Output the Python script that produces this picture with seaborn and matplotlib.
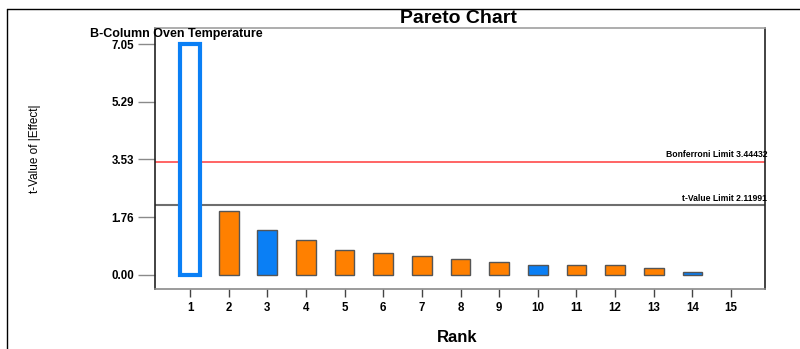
import matplotlib
matplotlib.use("Agg")
import matplotlib.pyplot as plt
from matplotlib.lines import Line2D
import seaborn as sns
import pandas as pd

# Pareto chart of standardized effects
ranks = [str(r) for r in range(1, 16)]
t_values = [7.05, 1.94, 1.36, 1.06, 0.755, 0.67, 0.58, 0.47, 0.38, 0.29, 0.29, 0.29, 0.195, 0.08, 0.0]
effect_sign = ["+", "-", "+", "-", "-", "-", "-", "-", "-", "+", "-", "-", "-", "+", "-"]
y_ticks = [0.00, 1.76, 3.53, 5.29, 7.05]
bonferroni_limit = 3.44432
t_value_limit = 2.11991
top_effect_name = "B-Column Oven Temperature"

ORANGE = "#FF8000"
BLUE = "#0A7FF5"

df = pd.DataFrame({"Rank": ranks, "t": t_values, "sign": effect_sign})

sns.set_theme(style="white")
plt.rcParams["font.family"] = ["Liberation Sans", "DejaVu Sans"]
plt.rcParams["text.color"] = "black"
plt.rcParams["xtick.color"] = "black"
plt.rcParams["ytick.color"] = "black"

fig = plt.figure(figsize=(8.0, 3.49), dpi=100)
ax = fig.add_axes([0.19375, 0.1719, 0.7625, 0.7479])

sns.barplot(data=df, x="Rank", y="t", hue="sign",
            palette={"+": BLUE, "-": ORANGE}, width=0.51, saturation=1,
            edgecolor="#555555", linewidth=1.0, legend=False, ax=ax)

# zero-height effects draw nothing
for p in ax.patches:
    if p.get_height() == 0:
        p.set_visible(False)

# the selected (largest) effect is drawn hollow with a thick blue outline
top = max(ax.patches, key=lambda p: p.get_height())
top.set_facecolor("white")
top.set_edgecolor(BLUE)
top.set_linewidth(3.0)

ax.set_xlim(-0.907, 14.88)
ax.set_ylim(-0.437, 7.544)

ax.axhline(bonferroni_limit, color="#FF4A4A", lw=1.2, zorder=0.5)
ax.axhline(t_value_limit, color="#6E6E6E", lw=1.5, zorder=0.5)

ax.text(1.004, bonferroni_limit + 0.08, f"Bonferroni Limit {bonferroni_limit}",
        transform=ax.get_yaxis_transform(), ha="right", va="bottom",
        fontsize=6.2, fontweight="bold", color="black")
ax.text(1.004, t_value_limit + 0.08, f"t-Value Limit {t_value_limit}",
        transform=ax.get_yaxis_transform(), ha="right", va="bottom",
        fontsize=6.2, fontweight="bold", color="black")

ax.set_yticks(y_ticks)
ax.set_yticklabels([f"{v:.2f}" for v in y_ticks])
ax.tick_params(axis="y", direction="out", length=12, width=1, color="#8A8A8A",
               pad=3, labelsize=8.3)
ax.tick_params(axis="x", direction="out", length=5.5, width=1, color="#444444",
               pad=4, labelsize=8.3)
ax.tick_params(left=True, bottom=True)
for lab in ax.get_yticklabels() + ax.get_xticklabels():
    lab.set_fontweight("bold")

for side, col in {"left": "#222222", "right": "#222222",
                  "top": "#A0A0A0", "bottom": "#8A8A8A"}.items():
    ax.spines[side].set_color(col)
    ax.spines[side].set_linewidth(1.2)

ax.set_xlabel("")
ax.set_ylabel("")

fig.text(0.5725, 0.948, "Pareto Chart", ha="center", va="center",
         fontsize=14, fontweight="bold")
fig.text(0.113, 0.902, top_effect_name, ha="left", va="center",
         fontsize=9, fontweight="bold")
fig.text(0.572, 0.032, "Rank", ha="center", va="center",
         fontsize=12, fontweight="bold")
fig.text(0.044, 0.575, "t-Value of |Effect|", ha="center", va="center",
         rotation=90, fontsize=8.5)

# outer frame edges
fig.add_artist(Line2D([0.009, 1.0], [1 - 9 / 349, 1 - 9 / 349], color="black", lw=1.0))
fig.add_artist(Line2D([0.009, 0.009], [0.0, 1 - 9 / 349], color="black", lw=1.0))

fig.savefig("out.png", dpi=100)
